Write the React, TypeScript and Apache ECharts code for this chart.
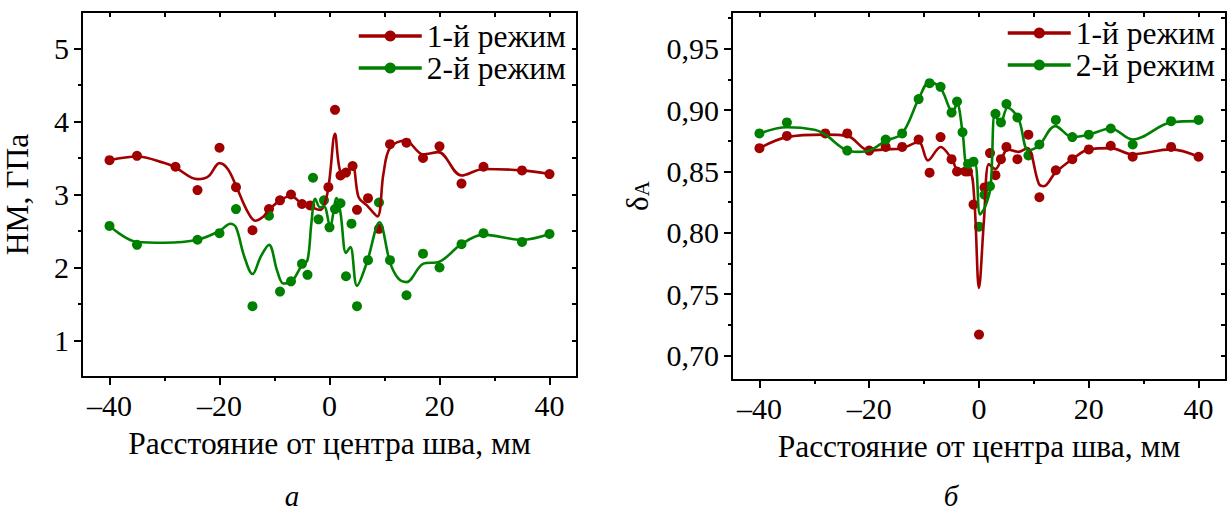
import React, { useEffect, useRef } from "react";
import * as echarts from "echarts";

// ---------- tick labels ----------
const xMajor = [-40, -20, 0, 20, 40];
const xMinor = [-30, -10, 10, 30];
const xAll = [-40, -30, -20, -10, 0, 10, 20, 30, 40];
const hmMajor = [1, 2, 3, 4, 5];
const hmMinor = [1.5, 2.5, 3.5, 4.5];
const hmAll = [1, 1.5, 2, 2.5, 3, 3.5, 4, 4.5, 5];
const daMajor = [0.7, 0.75, 0.8, 0.85, 0.9, 0.95];
const daMinor = [0.725, 0.775, 0.825, 0.875, 0.925, 0.975];
const daAll = [0.7, 0.725, 0.75, 0.775, 0.8, 0.825, 0.85, 0.875, 0.9, 0.925, 0.95, 0.975];

const seriesNames = ["1-й режим", "2-й режим"];
const xTitle = "Расстояние от центра шва, мм";
const hmTitle = "НМ, ГПа";
const panelLetters = ["а", "б"];

// ---------- panel a: HM, points ----------
const hm1X = [-40, -35, -28, -24, -20, -17, -14, -11, -9, -7, -5, -3.5, -0.2, 1, 2, 3, 4.2, 5, 7, 9, 11, 14, 17, 20, 24, 28, 35, 40];
const hm1Y = [3.47, 3.53, 3.38, 3.06, 3.64, 3.1, 2.51, 2.8, 2.92, 3.0, 2.87, 2.85, 3.1, 4.16, 3.26, 3.3, 3.39, 2.79, 2.95, 2.53, 3.69, 3.71, 3.5, 3.66, 3.15, 3.38, 3.33, 3.28];
const hm2X = [-40, -35, -24, -20, -17, -14, -11, -9, -7, -5, -4, -3, -2, -1, 0, 1, 2, 3, 4, 5, 7, 9, 11, 14, 17, 20, 24, 28, 35, 40];
const hm2Y = [2.57, 2.31, 2.38, 2.47, 2.8, 1.47, 2.71, 1.67, 1.81, 2.05, 1.9, 3.23, 2.66, 2.92, 2.55, 2.8, 2.88, 1.88, 2.6, 1.47, 2.1, 2.89, 2.1, 1.62, 2.19, 2.0, 2.32, 2.47, 2.35, 2.46];
// panel a: fitted curves
const hm1CurveX = [-40, -35, -30, -28, -24, -22, -20, -18.5, -17, -15, -13.5, -12, -11, -9, -7, -5, -3.5, -1.7, -0.3, 1, 1.9, 3, 4.2, 5.3, 6.8, 8.7, 9.8, 11, 13.8, 17, 19.8, 24, 28, 35, 40];
const hm1CurveY = [3.47, 3.52, 3.43, 3.37, 3.21, 3.25, 3.43, 3.35, 3.12, 2.78, 2.64, 2.7, 2.79, 2.92, 2.98, 2.87, 2.83, 2.79, 3.05, 3.83, 3.33, 3.3, 3.38, 2.96, 2.85, 2.7, 3.28, 3.64, 3.74, 3.55, 3.58, 3.26, 3.35, 3.33, 3.28];
const hm2CurveX = [-40, -35, -30, -24, -20, -18, -17, -15.5, -14, -12.5, -11, -9.5, -8.4, -7, -5, -4, -3.3, -2.6, -1.7, -1, 0.1, 1.3, 2, 3, 3.8, 5, 6.8, 9.1, 11, 12.5, 14, 17, 20, 24, 28, 35, 40];
const hm2CurveY = [2.57, 2.35, 2.34, 2.38, 2.5, 2.6, 2.55, 2.15, 1.91, 2.15, 2.31, 1.95, 1.78, 1.8, 2.03, 2.1, 2.6, 2.94, 2.82, 2.84, 2.57, 2.95, 2.75, 2.2, 2.28, 1.75, 2.07, 2.62, 2.07, 1.85, 1.8, 2.05, 2.08, 2.32, 2.45, 2.38, 2.46];

// ---------- panel б: δA, points ----------
const da1X = [-40, -35, -28, -24, -20, -17, -14, -11, -9, -7, -5, -4, -2.5, -2, -1, 0, 1, 2, 3, 4, 5, 7, 9, 11, 14, 17, 20, 24, 28, 35, 40];
const da1Y = [0.869, 0.879, 0.881, 0.881, 0.867, 0.87, 0.87, 0.876, 0.849, 0.878, 0.86, 0.85, 0.85, 0.85, 0.823, 0.717, 0.837, 0.865, 0.847, 0.86, 0.87, 0.86, 0.88, 0.829, 0.851, 0.86, 0.868, 0.871, 0.862, 0.87, 0.862];
const da2X = [-40, -35, -24, -17, -14, -11, -9, -7, -5, -4, -3, -2, -1, 0, 1, 2, 3, 4, 5, 7, 9, 11, 14, 17, 20, 24, 28, 35, 40];
const da2Y = [0.881, 0.89, 0.867, 0.876, 0.881, 0.909, 0.922, 0.919, 0.898, 0.907, 0.882, 0.856, 0.858, 0.805, 0.831, 0.838, 0.897, 0.89, 0.905, 0.894, 0.863, 0.872, 0.892, 0.878, 0.88, 0.885, 0.872, 0.891, 0.892];
// panel б: fitted curves
const da1CurveX = [-40, -35, -28, -24, -20, -17, -14, -11, -9.3, -7, -4.8, -4, -1.8, -0.9, 0, 0.9, 1.8, 3, 4.1, 5.2, 7.2, 8.8, 10.9, 11.8, 13.9, 17, 20, 24, 28, 35, 40];
const da1CurveY = [0.869, 0.878, 0.88, 0.879, 0.867, 0.868, 0.869, 0.874, 0.859, 0.87, 0.859, 0.852, 0.851, 0.83, 0.755, 0.81, 0.856, 0.852, 0.86, 0.868, 0.866, 0.869, 0.84, 0.838, 0.849, 0.86, 0.868, 0.869, 0.864, 0.868, 0.862];
const da2CurveX = [-40, -35, -30, -28, -24, -22, -20, -17, -14, -11, -9, -7, -4.8, -4, -3, -2.1, -0.8, 0.2, 1.1, 2.1, 2.9, 3.9, 5.2, 7.2, 9, 10.9, 13.9, 17, 20, 24, 28, 35, 40];
const da2CurveY = [0.881, 0.886, 0.884, 0.88, 0.867, 0.866, 0.867, 0.875, 0.881, 0.909, 0.923, 0.918, 0.899, 0.905, 0.882, 0.855, 0.857, 0.815, 0.821, 0.837, 0.897, 0.889, 0.902, 0.893, 0.867, 0.871, 0.887, 0.878, 0.88, 0.885, 0.876, 0.89, 0.891];

const RED = "#a00000";
const GREEN = "#008000";
const FONT = '"Liberation Serif", "Times New Roman", serif';
const FS = 30;

const zip = (xs: number[], ys: number[]) => xs.map((x, i) => [x, ys[i]]);
const fmtX = (v: number) => (v < 0 ? "\u2013" + Math.abs(v) : String(v));
const fmtDa = (v: number) => v.toFixed(2).replace(".", ",");

const lineBlack = { color: "#000", width: 2 };
const labelStyle = { fontFamily: FONT, fontSize: FS, color: "#000" };
const titleStyle = { fontFamily: FONT, fontSize: 31.5, color: "#000" };

function makeXAxes(gridIndex: number) {
  const base = {
    type: "value",
    gridIndex,
    min: -45,
    max: 45,
    splitLine: { show: false },
  };
  return [
    {
      ...base,
      position: "bottom",
      name: xTitle,
      nameLocation: "middle",
      nameGap: 50,
      nameTextStyle: titleStyle,
      axisLine: { onZero: false, lineStyle: lineBlack },
      axisTick: { customValues: xMajor, length: 8, lineStyle: lineBlack },
      axisLabel: { customValues: xMajor, formatter: fmtX, margin: 13, ...labelStyle },
    },
    {
      ...base,
      position: "bottom",
      axisLine: { show: false, onZero: false },
      axisTick: { customValues: xMinor, length: 4, lineStyle: lineBlack },
      axisLabel: { show: false },
    },
    {
      ...base,
      position: "top",
      axisLine: { onZero: false, lineStyle: lineBlack },
      axisTick: { customValues: xAll, inside: true, length: 5, lineStyle: lineBlack },
      axisLabel: { show: false },
    },
  ];
}

function makeYAxes(
  gridIndex: number,
  min: number,
  max: number,
  major: number[],
  minor: number[],
  all: number[],
  formatter: (v: number) => string,
  name: string,
  nameGap: number,
  nameTextStyle: any
) {
  const base = {
    type: "value",
    gridIndex,
    min,
    max,
    splitLine: { show: false },
  };
  return [
    {
      ...base,
      position: "left",
      name,
      nameLocation: "middle",
      nameGap,
      nameTextStyle,
      axisLine: { onZero: false, lineStyle: lineBlack },
      axisTick: { customValues: major, length: 8, lineStyle: lineBlack },
      axisLabel: { customValues: major, formatter, margin: 13, ...labelStyle },
    },
    {
      ...base,
      position: "left",
      axisLine: { show: false, onZero: false },
      axisTick: { customValues: minor, length: 4, lineStyle: lineBlack },
      axisLabel: { show: false },
    },
    {
      ...base,
      position: "right",
      axisLine: { onZero: false, lineStyle: lineBlack },
      axisTick: { customValues: all, inside: true, length: 5, lineStyle: lineBlack },
      axisLabel: { show: false },
    },
  ];
}

function curve(name: string, color: string, data: number[][], axisIndex: number) {
  return {
    type: "line",
    name,
    xAxisIndex: axisIndex,
    yAxisIndex: axisIndex,
    data,
    smooth: 0.35,
    symbol: "circle",
    showSymbol: false,
    symbolSize: 10,
    lineStyle: { color, width: 2.6 },
    itemStyle: { color },
    silent: true,
  };
}

function points(name: string, color: string, data: number[][], axisIndex: number) {
  return {
    type: "scatter",
    name,
    xAxisIndex: axisIndex,
    yAxisIndex: axisIndex,
    data,
    symbol: "circle",
    symbolSize: 10,
    itemStyle: { color, opacity: 1 },
    silent: true,
  };
}

function legend(left: number, top: number) {
  return {
    orient: "vertical",
    left,
    top,
    padding: 0,
    itemWidth: 63,
    itemHeight: 14,
    itemGap: 0,
    data: seriesNames,
    lineStyle: { width: 3.5 },
    textStyle: { fontFamily: FONT, fontSize: 31.5, color: "#000", lineHeight: 30 },
  };
}

export default function App() {
  const ref = useRef<HTMLDivElement>(null);
  useEffect(() => {
    if (!ref.current) return;
    const chart = echarts.init(ref.current, null, { renderer: "svg" });
    const option = {
      animation: false,
      backgroundColor: "#fff",
      grid: [
        { left: 82, top: 12, width: 495, height: 365 },
        { left: 732, top: 12, width: 494, height: 368 },
      ],
      xAxis: [...makeXAxes(0), ...makeXAxes(1)],
      yAxis: [
        ...makeYAxes(0, 0.5, 5.5, hmMajor, hmMinor, hmAll, (v) => String(v), hmTitle, 49, titleStyle),
        ...makeYAxes(1, 0.68, 0.98, daMajor, daMinor, daAll, fmtDa, "{d|δ}{s|A}", 80, {
          fontFamily: FONT,
          color: "#000",
          rich: {
            d: { fontFamily: FONT, fontSize: 31, lineHeight: 30, verticalAlign: "top", color: "#000" },
            s: { fontFamily: FONT, fontSize: 21, lineHeight: 20, padding: [16, 0, 0, 0], verticalAlign: "bottom", color: "#000" },
          },
        }),
      ],
      legend: [legend(357, 20), legend(1006, 17)],
      series: [
        curve(seriesNames[0], RED, zip(hm1CurveX, hm1CurveY), 0),
        points(seriesNames[0], RED, zip(hm1X, hm1Y), 0),
        curve(seriesNames[1], GREEN, zip(hm2CurveX, hm2CurveY), 0),
        points(seriesNames[1], GREEN, zip(hm2X, hm2Y), 0),
        curve(seriesNames[0], RED, zip(da1CurveX, da1CurveY), 3),
        points(seriesNames[0], RED, zip(da1X, da1Y), 3),
        curve(seriesNames[1], GREEN, zip(da2CurveX, da2CurveY), 3),
        points(seriesNames[1], GREEN, zip(da2X, da2Y), 3),
      ],
      graphic: [
        { type: "text", x: 292, y: 496, style: { text: panelLetters[0], font: `italic 29px ${FONT}`, fill: "#000", align: "center", verticalAlign: "middle" } },
        { type: "text", x: 951, y: 496, style: { text: panelLetters[1], font: `italic 29px ${FONT}`, fill: "#000", align: "center", verticalAlign: "middle" } },
      ],
    };
    chart.setOption(option as any);
    return () => chart.dispose();
  }, []);
  return (
    <div
      ref={ref}
      style={{ position: "fixed", left: 0, top: 0, width: 1227, height: 512, background: "#fff" }}
    />
  );
}
